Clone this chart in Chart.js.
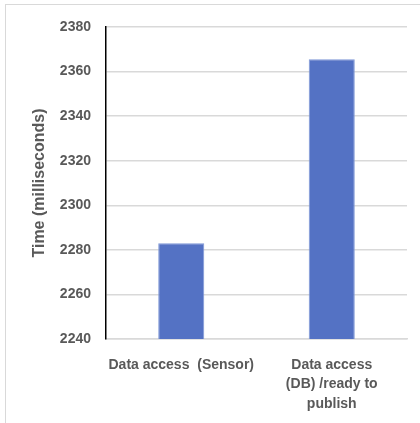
<!DOCTYPE html>
<html>
<head>
<meta charset="utf-8">
<script src="https://cdn.jsdelivr.net/npm/chart.js@4/dist/chart.umd.min.js"></script>
<style>
    html, body { margin: 0; padding: 0; background: #fff; }
    #wrap { position: relative; width: 420px; height: 423px; }
    #frame {
        position: absolute; left: 5px; top: 4px; right: -2px; bottom: -2px;
        border-left: 1px solid #d9d9d9; border-top: 1px solid #d9d9d9;
    }
    canvas { position: absolute; left: 0; top: 0; }
</style>
</head>
<body>
<div id="wrap">
    <div id="frame"></div>
    <canvas id="barChart" width="420" height="423"></canvas>
</div>
<script>
// Data
const categories = [
    ['Data access  (Sensor)'],
    ['Data access', '(DB) /ready to', 'publish']
];
const timeValues = [2283, 2365.5];
const yTicks = { min: 2240, max: 2380, step: 20 };

const textColor = '#595959';
const fontFamily = '"Liberation Sans", Arial, sans-serif';

new Chart(document.getElementById('barChart'), {
    type: 'bar',
    data: {
        labels: categories,
        datasets: [{
            label: 'Time',
            data: timeValues,
            backgroundColor: '#5472c4',
            borderColor: '#7f97d6',
            borderWidth: 1,
            categoryPercentage: 1,
            barPercentage: 0.306
        }]
    },
    options: {
        responsive: false,
        animation: false,
        layout: {
            padding: { top: 27, right: 13, left: 0, bottom: 0 }
        },
        plugins: {
            legend: { display: false },
            tooltip: { enabled: false }
        },
        scales: {
            x: {
                grid: { display: false },
                border: { color: '#d9d9d9', width: 1.5 },
                ticks: {
                    color: textColor,
                    padding: 8,
                    maxRotation: 0,
                    autoSkip: false,
                    font: { family: fontFamily, size: 14, weight: 'bold', lineHeight: 1.4 }
                },
                afterFit: scale => { scale.height = 84; }
            },
            y: {
                min: yTicks.min,
                max: yTicks.max,
                grid: { color: '#d9d9d9', lineWidth: 1.5, drawTicks: false },
                border: { color: '#000', width: 1.5 },
                ticks: {
                    stepSize: yTicks.step,
                    color: textColor,
                    padding: 15,
                    font: { family: fontFamily, size: 14, weight: 'bold' },
                    callback: value => String(value)
                },
                title: {
                    display: true,
                    text: 'Time (milliseconds)',
                    color: textColor,
                    padding: { top: 30, bottom: 0 },
                    font: { family: fontFamily, size: 16, weight: 'bold' }
                },
                afterFit: scale => { scale.width = 106; }
            }
        }
    }
});
</script>
</body>
</html>
